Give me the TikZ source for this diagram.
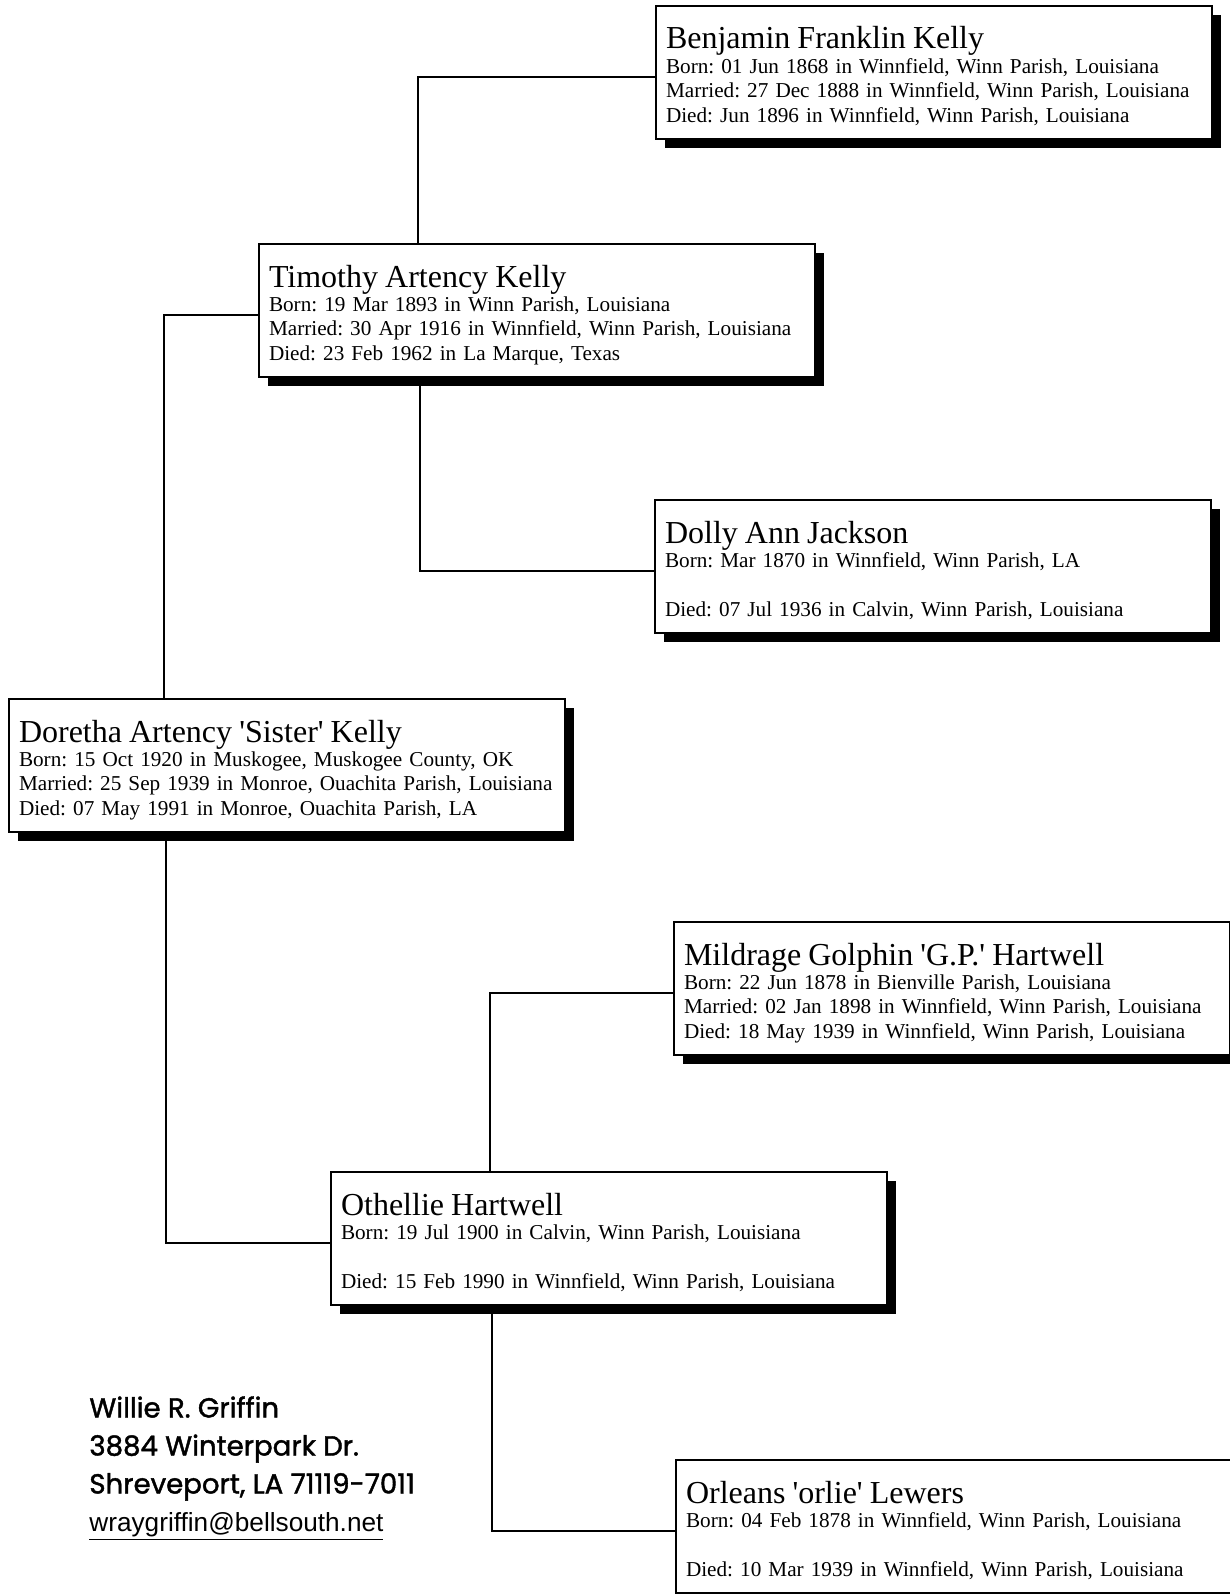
\documentclass[tikz,border=0pt]{standalone}
\usepackage{fontspec}
\setmainfont{Liberation Serif}
\newfontfamily\notefont{Poppins}[FakeBold=1.5]
\newfontfamily\mailfont{Liberation Sans}
\usetikzlibrary{shadows}
\frenchspacing

\newcommand{\pname}[1]{\rule{0pt}{21.5pt}{\fontsize{16}{18}\selectfont #1}}
\newcommand{\pend}{\rule[-8.6pt]{0pt}{8.6pt}}
\newcommand{\sq}{\textquotesingle}

\begin{document}
\begin{tikzpicture}[x=0.5pt, y=-0.5pt]
\tikzset{person/.style = {draw, line width=1pt, fill=white, anchor=north west,
  text width=268pt, inner xsep=5pt, inner ysep=0pt, align=left,
  font=\fontsize{10.6}{12.2}\selectfont,
  drop shadow={shadow xshift=4.5pt, shadow yshift=-4.5pt, opacity=1, fill=black}}}
\tikzset{link/.style = {draw, line width=1pt}}
\tikzset{addr/.style = {anchor=north west, inner sep=0pt, align=left,
  font=\notefont\fontsize{13.8}{19}\selectfont}}

\clip (0,0) rectangle (1230,1594);

% fathers side
\node[person] (ben) at (655,5) {\pname{Benjamin Franklin Kelly}\\
  Born: 01 Jun 1868 in Winnfield, Winn Parish, Louisiana\\
  Married: 27 Dec 1888 in Winnfield, Winn Parish, Louisiana\\
  Died: Jun 1896 in Winnfield, Winn Parish, Louisiana\pend};
\node[person] (tim) at (258,243) {\pname{Timothy Artency Kelly}\\
  Born: 19 Mar 1893 in Winn Parish, Louisiana\\
  Married: 30 Apr 1916 in Winnfield, Winn Parish, Louisiana\\
  Died: 23 Feb 1962 in La Marque, Texas\pend};
\node[person] (dolly) at (654,499) {\pname{Dolly Ann Jackson}\\
  Born: Mar 1870 in Winnfield, Winn Parish, LA\\
  \mbox{}\\
  Died: 07 Jul 1936 in Calvin, Winn Parish, Louisiana\pend};

% root
\node[person] (dor) at (8,698) {\pname{Doretha Artency \sq Sister\sq{} Kelly}\\
  Born: 15 Oct 1920 in Muskogee, Muskogee County, OK\\
  Married: 25 Sep 1939 in Monroe, Ouachita Parish, Louisiana\\
  Died: 07 May 1991 in Monroe, Ouachita Parish, LA\pend};

% mothers side
\node[person] (mil) at (673,921) {\pname{Mildrage Golphin \sq G.P.\sq{} Hartwell}\\
  Born: 22 Jun 1878 in Bienville Parish, Louisiana\\
  Married: 02 Jan 1898 in Winnfield, Winn Parish, Louisiana\\
  Died: 18 May 1939 in Winnfield, Winn Parish, Louisiana\pend};
\node[person] (oth) at (330,1171) {\pname{Othellie Hartwell}\\
  Born: 19 Jul 1900 in Calvin, Winn Parish, Louisiana\\
  \mbox{}\\
  Died: 15 Feb 1990 in Winnfield, Winn Parish, Louisiana\pend};
\node[person] (orl) at (675,1459) {\pname{Orleans \sq orlie\sq{} Lewers}\\
  Born: 04 Feb 1878 in Winnfield, Winn Parish, Louisiana\\
  \mbox{}\\
  Died: 10 Mar 1939 in Winnfield, Winn Parish, Louisiana\pend};

% edges
\draw[link] ([xshift=80pt]tim.north west) |- ([yshift=-2pt]ben.west);
\draw[link] ([xshift=81pt]tim.south west) |- ([yshift=-2pt]dolly.west);
\draw[link] ([yshift=-2pt]tim.west) -| ([xshift=78pt]dor.north west);
\draw[link] ([xshift=79pt]dor.south west) |- ([yshift=-2pt]oth.west);
\draw[link] ([xshift=80pt]oth.north west) |- ([yshift=-2pt]mil.west);
\draw[link] ([xshift=81pt]oth.south west) |- ([yshift=-2pt]orl.west);

% address
\node[addr] (sender) at (89,1396) {\rule{0pt}{10pt}Willie R. Griffin\\
  3884 Winterpark Dr.\\
  Shreveport, LA 71119-7011\\
  {\mailfont\fontsize{13.1}{19}\selectfont\underline{wraygriffin@bellsouth.net}}};
\end{tikzpicture}
\end{document}
